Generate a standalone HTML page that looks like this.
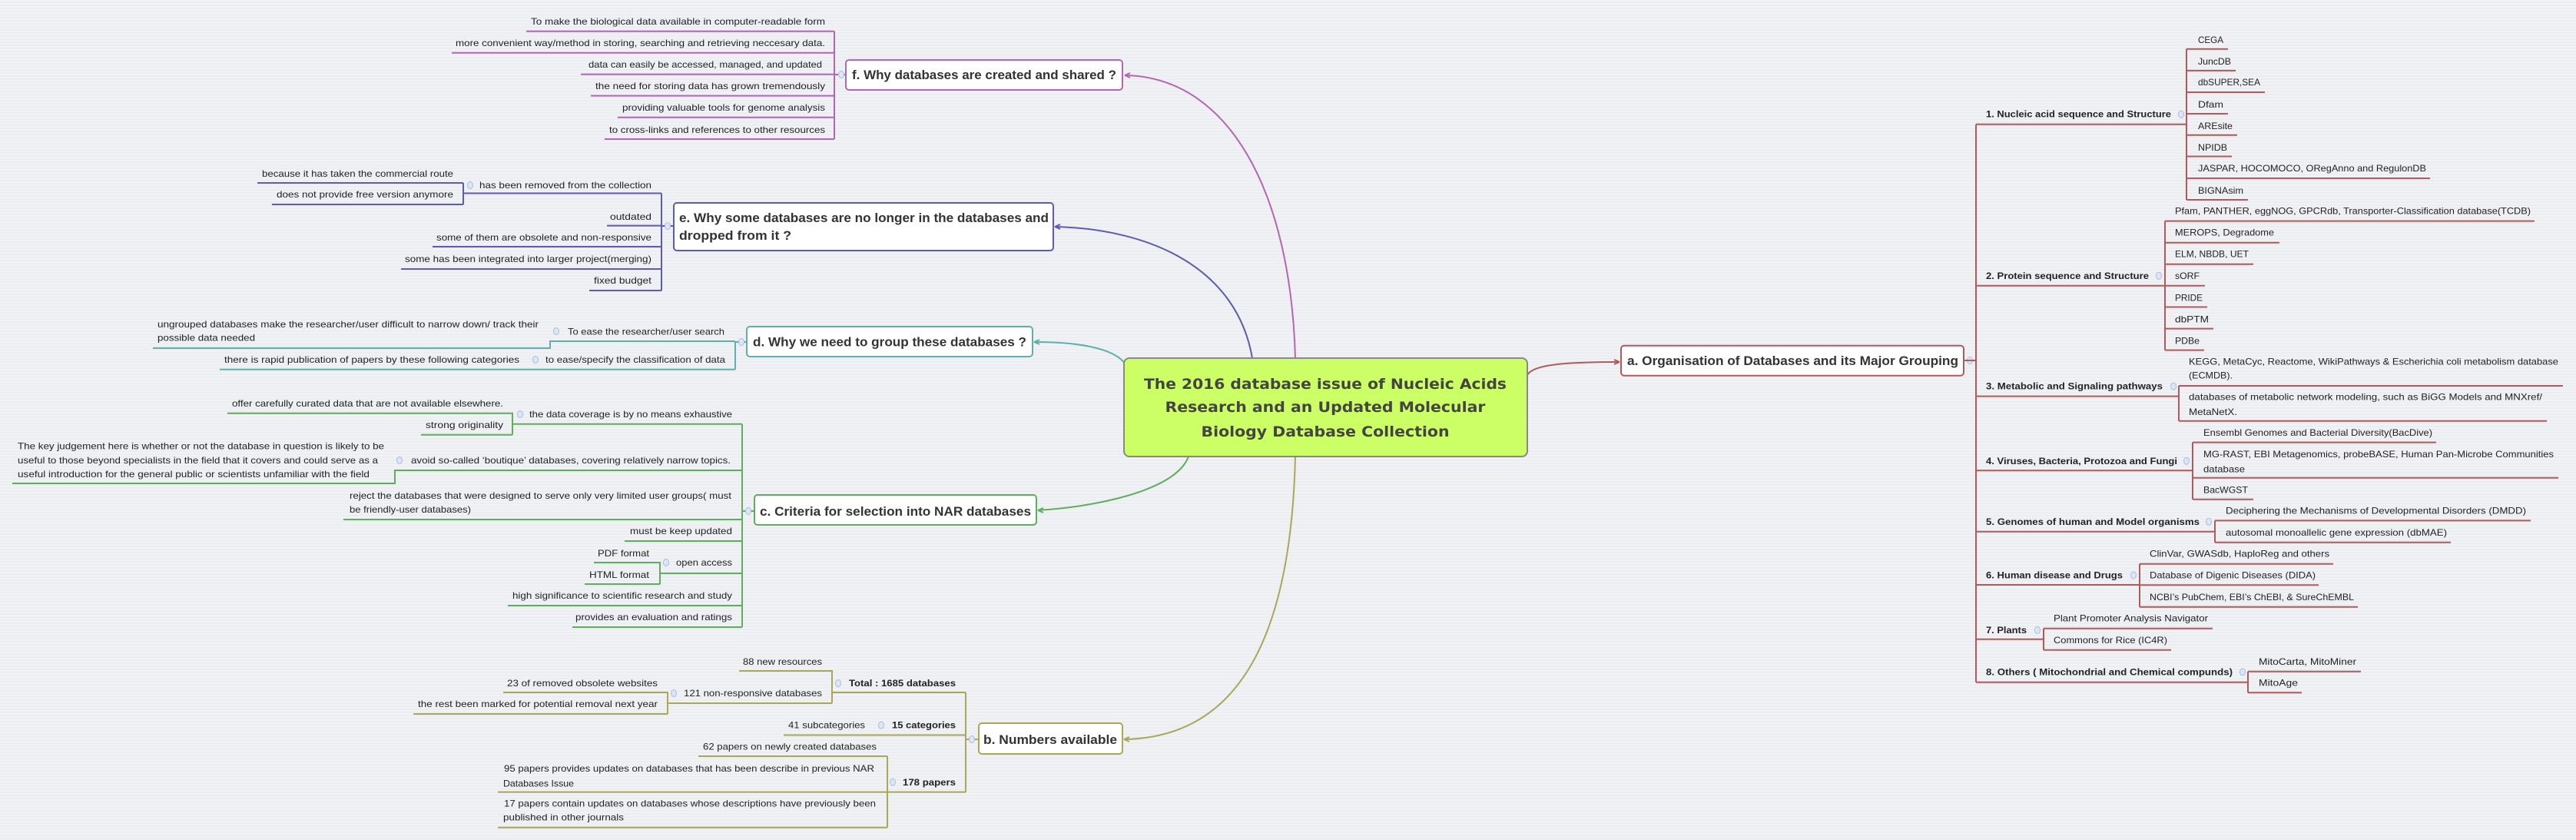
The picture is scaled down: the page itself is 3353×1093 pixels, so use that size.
<!DOCTYPE html>
<html><head><meta charset="utf-8"><style>
html,body{margin:0;padding:0;background:#eff0f3;}
svg{display:block;}
text{font-family:"Liberation Sans",sans-serif;fill:#222;}
.s{font-size:12px;}
.sb{font-size:12px;font-weight:bold;}
.t{font-size:17px;font-weight:bold;fill:#333;}
.c{font-family:"DejaVu Sans","Liberation Sans",sans-serif;font-size:19px;font-weight:bold;fill:#444;}
.P{stroke:#b366b3}.B{stroke:#5c5cb0}.T{stroke:#5fb0aa}.G{stroke:#5fae5f}.O{stroke:#aaa65a}.R{stroke:#b05a5a}
path{fill:none;stroke-width:2;}
.k{fill:#dde6f7;stroke:#a9bde0;stroke-width:1;}
</style></head><body>
<svg width="3353" height="1093" viewBox="0 0 3353 1093" xmlns="http://www.w3.org/2000/svg">
<defs>
<pattern id="st" width="4" height="4" patternUnits="userSpaceOnUse"><rect width="4" height="2" fill="#f1f2f5"/><rect y="2" width="4" height="2" fill="#ecedf0"/></pattern>
<marker id="ar" markerWidth="8" markerHeight="8" refX="6" refY="4" orient="auto" markerUnits="userSpaceOnUse"><path d="M0,1 L6,4 L0,7" style="stroke:inherit;stroke-width:1.5;fill:none"/></marker>
</defs>
<rect width="3353" height="1093" fill="url(#st)"/>

<!-- main curves -->
<path class="P" d="M1686,466 C1680,250 1600,100 1464,98"/>
<path class="P" d="M1464,98 l7,-3 M1464,98 l7,3"/>
<path class="B" d="M1630,466 C1610,350 1500,298 1373,295"/>
<path class="B" d="M1373,295 l7,-3 M1373,295 l7,3"/>
<path class="T" d="M1465,474 C1450,452 1400,445 1346,445"/>
<path class="T" d="M1346,445 l7,-3 M1346,445 l7,3"/>
<path class="G" d="M1547,594 C1530,640 1420,660 1351,664"/>
<path class="G" d="M1351,664 l7,-3 M1351,664 l7,3"/>
<path class="O" d="M1686,594 C1680,850 1600,960 1463,962"/>
<path class="O" d="M1463,962 l7,-3 M1463,962 l7,3"/>
<path class="R" d="M1988,488 C1995,474 2040,471 2108,471"/>
<path class="R" d="M2108,471 l-7,-3 M2108,471 l-7,3"/>

<!-- center -->
<rect x="1463" y="466" width="525" height="128" rx="7" fill="#ccff66" stroke="#888" stroke-width="2"/>
<text class="c" x="1725" y="506" text-anchor="middle" textLength="472" lengthAdjust="spacingAndGlyphs">The 2016 database issue of Nucleic Acids</text>
<text class="c" x="1725" y="536" text-anchor="middle" textLength="417" lengthAdjust="spacingAndGlyphs">Research and an Updated Molecular</text>
<text class="c" x="1725" y="568" text-anchor="middle" textLength="323" lengthAdjust="spacingAndGlyphs">Biology Database Collection</text>

<!-- f -->
<path class="P" d="M685,40.7 H1086 M588,68.7 H1086 M756,96.8 H1086 M769,124.6 H1086 M804,152.7 H1086 M787,181 H1086 M1086,40.7 V181 M1086,97 H1101"/>
<g class="s" text-anchor="end">
<text class="s" x="1074" y="32" textLength="383" lengthAdjust="spacingAndGlyphs">To make the biological data available in computer-readable form</text>
<text class="s" x="1074" y="60" textLength="481" lengthAdjust="spacingAndGlyphs">more convenient way/method in storing, searching and retrieving neccesary data.</text>
<text class="s" x="1070" y="88" textLength="304" lengthAdjust="spacingAndGlyphs">data can easily be accessed, managed, and updated</text>
<text class="s" x="1074" y="116" textLength="299" lengthAdjust="spacingAndGlyphs">the need for storing data has grown tremendously</text>
<text class="s" x="1074" y="144" textLength="264" lengthAdjust="spacingAndGlyphs">providing valuable tools for genome analysis</text>
<text class="s" x="1074" y="173" textLength="281" lengthAdjust="spacingAndGlyphs">to cross-links and references to other resources</text>
</g>
<ellipse class="k" cx="1095" cy="97" rx="3.5" ry="4.5"/>
<rect x="1101" y="78" width="360" height="39" rx="4" fill="#fff" class="P" style="stroke-width:2"/>
<text class="t" x="1109" y="103" textLength="344" lengthAdjust="spacingAndGlyphs">f. Why databases are created and shared ?</text>

<!-- e -->
<path class="B" d="M335,238 H603 M354,266 H603 M603,238 V266 M603,251.5 H861 M861,251.5 V378 M790,293.6 H861 M563,321 H861 M522,350 H861 M767,378 H861 M861,294 H877"/>
<g text-anchor="end">
<text class="s" x="590" y="230" textLength="249" lengthAdjust="spacingAndGlyphs">because it has taken the commercial route</text>
<text class="s" x="590" y="257" textLength="230" lengthAdjust="spacingAndGlyphs">does not provide free version anymore</text>
<text class="s" x="848" y="245" textLength="224" lengthAdjust="spacingAndGlyphs">has been removed from the collection</text>
<text class="s" x="848" y="286" textLength="54" lengthAdjust="spacingAndGlyphs">outdated</text>
<text class="s" x="848" y="313" textLength="280" lengthAdjust="spacingAndGlyphs">some of them are obsolete and non-responsive</text>
<text class="s" x="848" y="341" textLength="321" lengthAdjust="spacingAndGlyphs">some has been integrated into larger project(merging)</text>
<text class="s" x="848" y="369" textLength="75" lengthAdjust="spacingAndGlyphs">fixed budget</text>
</g>
<ellipse class="k" cx="612" cy="241" rx="3.5" ry="4.5"/>
<ellipse class="k" cx="869" cy="294" rx="3.5" ry="4.5"/>
<rect x="877" y="264" width="494" height="62" rx="4" fill="#fff" class="B" style="stroke-width:2"/>
<text class="t" x="884" y="289" textLength="481" lengthAdjust="spacingAndGlyphs">e. Why some databases are no longer in the databases and</text>
<text class="t" x="884" y="312" textLength="146" lengthAdjust="spacingAndGlyphs">dropped from it ?</text>

<!-- d -->
<path class="T" d="M199,453 H716 V444 H957 M286,480.7 H957 M957,444 V480.7 M957,445 H972"/>
<text class="s" x="205" y="426" textLength="496" lengthAdjust="spacingAndGlyphs">ungrouped databases make the researcher/user difficult to narrow down/ track their</text>
<text class="s" x="205" y="443.5" textLength="127" lengthAdjust="spacingAndGlyphs">possible data needed</text>
<text class="s" x="739" y="435.5" textLength="204" lengthAdjust="spacingAndGlyphs">To ease the researcher/user search</text>
<text class="s" x="292" y="472" textLength="384" lengthAdjust="spacingAndGlyphs">there is rapid publication of papers by these following categories</text>
<text class="s" x="710" y="472" textLength="234" lengthAdjust="spacingAndGlyphs">to ease/specify the classification of data</text>
<ellipse class="k" cx="724" cy="431" rx="3.5" ry="4.5"/>
<ellipse class="k" cx="697" cy="468" rx="3.5" ry="4.5"/>
<ellipse class="k" cx="965" cy="445" rx="3.5" ry="4.5"/>
<rect x="972" y="425" width="372" height="39" rx="4" fill="#fff" class="T" style="stroke-width:2"/>
<text class="t" x="980" y="450.5" textLength="356" lengthAdjust="spacingAndGlyphs">d. Why we need to group these databases ?</text>

<!-- c -->
<path class="G" d="M296,537.8 H667 V565.8 M548,565.8 H667 M667,551.8 H966 M16,629 H514 V612 H966 M447,676 H966 M813,704 H966 M773,732 H859 V760 M761,760 H859 M859,746 H966 M661,788 H966 M745,816 H966 M966,551.8 V816 M966,665 H982"/>
<text class="s" x="302" y="529" textLength="353" lengthAdjust="spacingAndGlyphs">offer carefully curated data that are not available elsewhere.</text>
<text class="s" x="554" y="557" textLength="101" lengthAdjust="spacingAndGlyphs">strong originality</text>
<text class="s" x="689" y="543" textLength="264" lengthAdjust="spacingAndGlyphs">the data coverage is by no means exhaustive</text>
<text class="s" x="23" y="584.6" textLength="477" lengthAdjust="spacingAndGlyphs">The key judgement here is whether or not the database in question is likely to be</text>
<text class="s" x="23" y="603" textLength="469" lengthAdjust="spacingAndGlyphs">useful to those beyond specialists in the field that it covers and could serve as a</text>
<text class="s" x="23" y="621" textLength="458" lengthAdjust="spacingAndGlyphs">useful introduction for the general public or scientists unfamiliar with the field</text>
<text class="s" x="535" y="603" textLength="416" lengthAdjust="spacingAndGlyphs">avoid so-called ‘boutique’ databases, covering relatively narrow topics.</text>
<text class="s" x="455" y="649" textLength="497" lengthAdjust="spacingAndGlyphs">reject the databases that were designed to serve only very limited user groups( must</text>
<text class="s" x="455" y="667" textLength="158" lengthAdjust="spacingAndGlyphs">be friendly-user databases)</text>
<text class="s" x="820" y="695" textLength="133" lengthAdjust="spacingAndGlyphs">must be keep updated</text>
<text class="s" x="778" y="724" textLength="67" lengthAdjust="spacingAndGlyphs">PDF format</text>
<text class="s" x="767" y="752" textLength="78" lengthAdjust="spacingAndGlyphs">HTML format</text>
<text class="s" x="880" y="736" textLength="73" lengthAdjust="spacingAndGlyphs">open access</text>
<text class="s" x="667" y="779" textLength="286" lengthAdjust="spacingAndGlyphs">high significance to scientific research and study</text>
<text class="s" x="749" y="807" textLength="204" lengthAdjust="spacingAndGlyphs">provides an evaluation and ratings</text>
<ellipse class="k" cx="677" cy="539" rx="3.5" ry="4.5"/>
<ellipse class="k" cx="520" cy="599" rx="3.5" ry="4.5"/>
<ellipse class="k" cx="867" cy="732" rx="3.5" ry="4.5"/>
<ellipse class="k" cx="974" cy="665" rx="3.5" ry="4.5"/>
<rect x="982" y="644" width="367" height="39" rx="4" fill="#fff" class="G" style="stroke-width:2"/>
<text class="t" x="989" y="671" textLength="353" lengthAdjust="spacingAndGlyphs">c. Criteria for selection into NAR databases</text>

<!-- b -->
<path class="O" d="M962,873 H1083 V915 M1083,901 H1257 M869,915 H1083 M655,901 H869 V929 M538,929 H869 M1020,956.5 H1257 M909,984 H1155 M648,1030.6 H1257 M648,1076.8 H1155 M1155,984 V1076.8 M1257,901 V1030.6 M1257,962 H1274"/>
<text class="s" x="967" y="865" textLength="103" lengthAdjust="spacingAndGlyphs">88 new resources</text>
<text class="sb" x="1105" y="893" textLength="139" lengthAdjust="spacingAndGlyphs">Total : 1685 databases</text>
<text class="s" x="890" y="906" textLength="180" lengthAdjust="spacingAndGlyphs">121 non-responsive databases</text>
<text class="s" x="660" y="893" textLength="196" lengthAdjust="spacingAndGlyphs">23 of removed obsolete websites</text>
<text class="s" x="544" y="920" textLength="312" lengthAdjust="spacingAndGlyphs">the rest been marked for potential removal next year</text>
<text class="s" x="1026" y="947.6" textLength="100" lengthAdjust="spacingAndGlyphs">41 subcategories</text>
<text class="sb" x="1161" y="947.6" textLength="83" lengthAdjust="spacingAndGlyphs">15 categories</text>
<text class="s" x="915" y="975.6" textLength="226" lengthAdjust="spacingAndGlyphs">62 papers on newly created databases</text>
<text class="s" x="656" y="1004" textLength="482" lengthAdjust="spacingAndGlyphs">95 papers provides updates on databases that has been describe in previous NAR</text>
<text class="s" x="655" y="1023.5" textLength="92" lengthAdjust="spacingAndGlyphs">Databases Issue</text>
<text class="s" x="656" y="1049.7" textLength="484" lengthAdjust="spacingAndGlyphs">17 papers contain updates on databases whose descriptions have previously been</text>
<text class="s" x="655" y="1067.6" textLength="157" lengthAdjust="spacingAndGlyphs">published in other journals</text>
<text class="sb" x="1175" y="1021.8" textLength="69" lengthAdjust="spacingAndGlyphs">178 papers</text>
<ellipse class="k" cx="1091" cy="889" rx="3.5" ry="4.5"/>
<ellipse class="k" cx="877" cy="902" rx="3.5" ry="4.5"/>
<ellipse class="k" cx="1147" cy="943.6" rx="3.5" ry="4.5"/>
<ellipse class="k" cx="1162" cy="1017.8" rx="3.5" ry="4.5"/>
<ellipse class="k" cx="1265" cy="962" rx="3.5" ry="4.5"/>
<rect x="1274" y="941" width="187" height="40" rx="4" fill="#fff" class="O" style="stroke-width:2"/>
<text class="t" x="1280" y="968" textLength="174" lengthAdjust="spacingAndGlyphs">b. Numbers available</text>

<!-- a -->
<rect x="2110" y="449.7" width="446" height="39" rx="4" fill="#fff" class="R" style="stroke-width:2"/>
<text class="t" x="2118" y="475" textLength="431" lengthAdjust="spacingAndGlyphs">a. Organisation of Databases and its Major Grouping</text>
<ellipse class="k" cx="2564" cy="469" rx="3.5" ry="4.5"/>
<path class="R" d="M2556,469 H2572 M2572,161.7 V887.7
M2572,161.7 H2846 M2846,63.8 V260 M2846,63.8 H2900 M2846,91.9 H2910 M2846,120 H2948 M2846,148 H2900 M2846,175.7 H2912 M2846,203.5 H2905 M2846,232 H3163 M2846,260 H2926
M2572,371.8 H2818 M2818,287.6 V455.6 M2818,287.6 H3299 M2818,315.7 H2967 M2818,343.7 H2933 M2818,371.8 H2870 M2818,399.5 H2873 M2818,427.6 H2881 M2818,455.6 H2869
M2572,515.6 H2836 M2836,502 V547.7 M2836,502 H3336 M2836,547.7 H3315
M2572,612.3 H2854 M2854,575.6 V649.8 M2854,575.6 H3171 M2854,621.8 H3330 M2854,649.8 H2933
M2572,691.8 H2883 M2883,677.4 V705.7 M2883,677.4 H3294 M2883,705.7 H3190
M2572,761 H2785 M2785,733.7 V789.7 M2785,733.7 H3037 M2785,761.3 H3018 M2785,789.7 H3069
M2572,831.7 H2660 M2660,817.7 V845.7 M2660,817.7 H2880 M2660,845.7 H2826
M2572,887.7 H2926 M2926,873.7 V901.3 M2926,873.7 H3073 M2926,901.3 H2996"/>
<text class="sb" x="2585" y="152.7" textLength="241" lengthAdjust="spacingAndGlyphs">1. Nucleic acid sequence and Structure</text>
<text class="sb" x="2585" y="362.8" textLength="212" lengthAdjust="spacingAndGlyphs">2. Protein sequence and Structure</text>
<text class="sb" x="2585" y="506.6" textLength="230" lengthAdjust="spacingAndGlyphs">3. Metabolic and Signaling pathways</text>
<text class="sb" x="2585" y="603.8" textLength="249" lengthAdjust="spacingAndGlyphs">4. Viruses, Bacteria, Protozoa and Fungi</text>
<text class="sb" x="2585" y="682.9" textLength="278" lengthAdjust="spacingAndGlyphs">5. Genomes of human and Model organisms</text>
<text class="sb" x="2585" y="752.5" textLength="178" lengthAdjust="spacingAndGlyphs">6. Human disease and Drugs</text>
<text class="sb" x="2585" y="824" textLength="53" lengthAdjust="spacingAndGlyphs">7. Plants</text>
<text class="sb" x="2585" y="878.4" textLength="321" lengthAdjust="spacingAndGlyphs">8. Others ( Mitochondrial and Chemical compunds)</text>
<ellipse class="k" cx="2839" cy="148.7" rx="3.5" ry="4.5"/>
<ellipse class="k" cx="2810" cy="358.8" rx="3.5" ry="4.5"/>
<ellipse class="k" cx="2829" cy="502.6" rx="3.5" ry="4.5"/>
<ellipse class="k" cx="2846" cy="599.8" rx="3.5" ry="4.5"/>
<ellipse class="k" cx="2875" cy="678.9" rx="3.5" ry="4.5"/>
<ellipse class="k" cx="2777" cy="748.5" rx="3.5" ry="4.5"/>
<ellipse class="k" cx="2652" cy="820" rx="3.5" ry="4.5"/>
<ellipse class="k" cx="2919" cy="874.4" rx="3.5" ry="4.5"/>

<text class="s" x="2861" y="56" textLength="33" lengthAdjust="spacingAndGlyphs">CEGA</text>
<text class="s" x="2861" y="84" textLength="43" lengthAdjust="spacingAndGlyphs">JuncDB</text>
<text class="s" x="2861" y="111" textLength="81" lengthAdjust="spacingAndGlyphs">dbSUPER,SEA</text>
<text class="s" x="2861" y="140" textLength="33" lengthAdjust="spacingAndGlyphs">Dfam</text>
<text class="s" x="2861" y="168" textLength="45" lengthAdjust="spacingAndGlyphs">AREsite</text>
<text class="s" x="2861" y="196" textLength="38" lengthAdjust="spacingAndGlyphs">NPIDB</text>
<text class="s" x="2861" y="223" textLength="297" lengthAdjust="spacingAndGlyphs">JASPAR, HOCOMOCO, ORegAnno and RegulonDB</text>
<text class="s" x="2861" y="252" textLength="59" lengthAdjust="spacingAndGlyphs">BIGNAsim</text>

<text class="s" x="2831" y="278.6" textLength="463" lengthAdjust="spacingAndGlyphs">Pfam, PANTHER, eggNOG, GPCRdb, Transporter-Classification database(TCDB)</text>
<text class="s" x="2831" y="306.4" textLength="129" lengthAdjust="spacingAndGlyphs">MEROPS, Degradome</text>
<text class="s" x="2831" y="334.4" textLength="96" lengthAdjust="spacingAndGlyphs">ELM, NBDB, UET</text>
<text class="s" x="2831" y="363" textLength="32" lengthAdjust="spacingAndGlyphs">sORF</text>
<text class="s" x="2831" y="391.6" textLength="36" lengthAdjust="spacingAndGlyphs">PRIDE</text>
<text class="s" x="2831" y="419.6" textLength="44" lengthAdjust="spacingAndGlyphs">dbPTM</text>
<text class="s" x="2831" y="447.4" textLength="32" lengthAdjust="spacingAndGlyphs">PDBe</text>

<text class="s" x="2849" y="474.4" textLength="481" lengthAdjust="spacingAndGlyphs">KEGG, MetaCyc, Reactome, WikiPathways &amp; Escherichia coli metabolism database</text>
<text class="s" x="2849" y="492.6" textLength="57" lengthAdjust="spacingAndGlyphs">(ECMDB).</text>
<text class="s" x="2849" y="520.7" textLength="460" lengthAdjust="spacingAndGlyphs">databases of metabolic network modeling, such as BiGG Models and MNXref/</text>
<text class="s" x="2849" y="540" textLength="63" lengthAdjust="spacingAndGlyphs">MetaNetX.</text>

<text class="s" x="2868" y="566.8" textLength="298" lengthAdjust="spacingAndGlyphs">Ensembl Genomes and Bacterial Diversity(BacDive)</text>
<text class="s" x="2868" y="594.8" textLength="456" lengthAdjust="spacingAndGlyphs">MG-RAST, EBI Metagenomics, probeBASE, Human Pan-Microbe Communities</text>
<text class="s" x="2868" y="614.4" textLength="54" lengthAdjust="spacingAndGlyphs">database</text>
<text class="s" x="2868" y="641.7" textLength="58" lengthAdjust="spacingAndGlyphs">BacWGST</text>

<text class="s" x="2897" y="668.5" textLength="391" lengthAdjust="spacingAndGlyphs">Deciphering the Mechanisms of Developmental Disorders (DMDD)</text>
<text class="s" x="2897" y="696.9" textLength="288" lengthAdjust="spacingAndGlyphs">autosomal monoallelic gene expression (dbMAE)</text>

<text class="s" x="2798" y="724.5" textLength="234" lengthAdjust="spacingAndGlyphs">ClinVar, GWASdb, HaploReg and others</text>
<text class="s" x="2798" y="752.5" textLength="216" lengthAdjust="spacingAndGlyphs">Database of Digenic Diseases (DIDA)</text>
<text class="s" x="2798" y="781.2" textLength="266" lengthAdjust="spacingAndGlyphs">NCBI’s PubChem, EBI’s ChEBI, &amp; SureChEMBL</text>

<text class="s" x="2673" y="808.5" textLength="201" lengthAdjust="spacingAndGlyphs">Plant Promoter Analysis Navigator</text>
<text class="s" x="2673" y="836.8" textLength="148" lengthAdjust="spacingAndGlyphs">Commons for Rice (IC4R)</text>

<text class="s" x="2940" y="865.2" textLength="127" lengthAdjust="spacingAndGlyphs">MitoCarta, MitoMiner</text>
<text class="s" x="2940" y="892.4" textLength="51" lengthAdjust="spacingAndGlyphs">MitoAge</text>
</svg>
</body></html>
